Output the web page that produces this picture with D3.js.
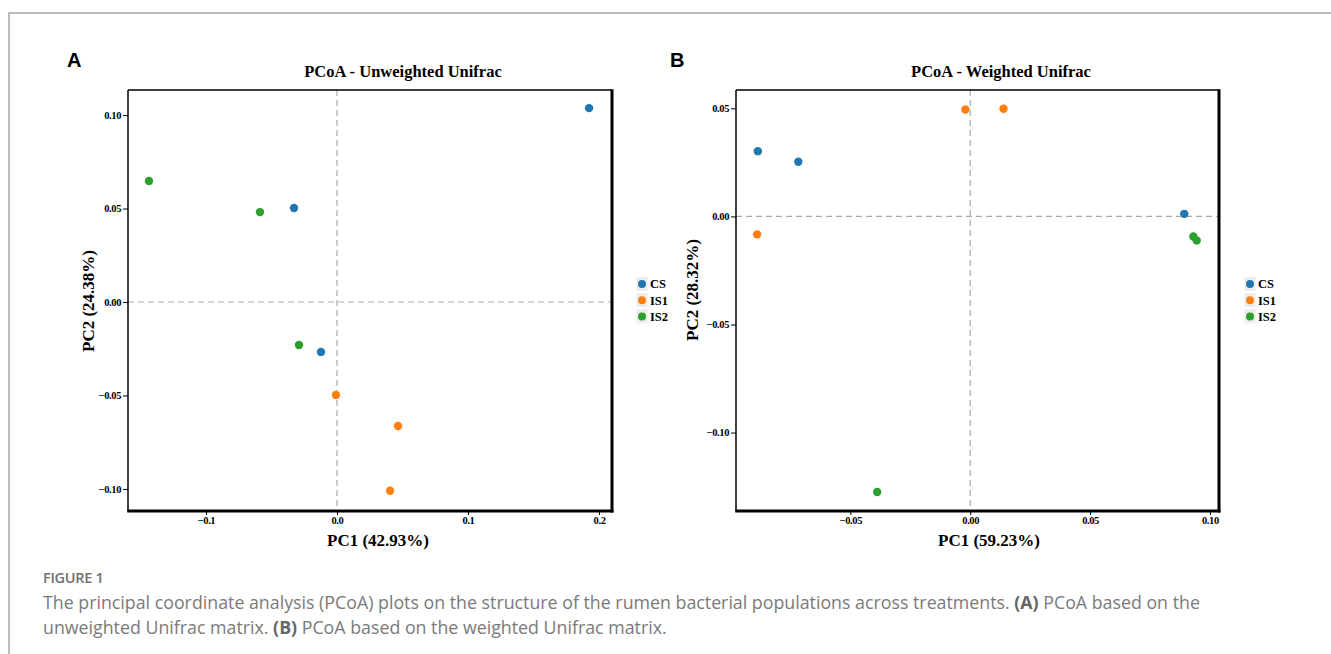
<!DOCTYPE html>
<html><head><meta charset="utf-8">
<script src="https://cdn.jsdelivr.net/npm/d3@7"></script>
<style>
html,body{margin:0;padding:0;background:#fff;}
svg{display:block;}
</style></head>
<body>
<svg id="fig" width="1331" height="654"></svg>
<script>
// ---- data ----
const groups = ["CS", "IS1", "IS2"];
const groupColors = ["#1f77b4", "#ff7f0e", "#2ca02c"];

// Panel A: Unweighted Unifrac (PC1, PC2)
const unweightedGroup = ["CS","CS","CS","IS1","IS1","IS1","IS2","IS2","IS2"];
const unweightedPC1 = [0.1924, -0.0328, -0.0122, -0.0008, 0.0466, 0.0405, -0.1435, -0.0588, -0.0290];
const unweightedPC2 = [0.1037, 0.0503, -0.0267, -0.0497, -0.0663, -0.1010, 0.0647, 0.0481, -0.0230];
const unweightedXTicks = [-0.1, 0.0, 0.1, 0.2];
const unweightedYTicks = [0.10, 0.05, 0.00, -0.05, -0.10];

// Panel B: Weighted Unifrac (PC1, PC2)
const weightedGroup = ["CS","CS","CS","IS1","IS1","IS1","IS2","IS2","IS2"];
const weightedPC1 = [-0.0886, -0.0717, 0.0893, -0.0020, 0.0139, -0.0889, 0.0931, 0.0945, -0.0388];
const weightedPC2 = [0.0302, 0.0253, 0.0012, 0.0495, 0.0498, -0.0083, -0.0093, -0.0111, -0.1275];
const weightedXTicks = [-0.05, 0.00, 0.05, 0.10];
const weightedYTicks = [0.05, 0.00, -0.05, -0.10];

const captionHead = "FIGURE 1";

// ---- drawing ----
const svg = d3.select("#fig");
const serif = "'Liberation Serif','Times New Roman',serif";
const sans = "'Open Sans','Noto Sans',sans-serif";

// frame lines
svg.append("line").attr("x1",8).attr("x2",1331).attr("y1",13).attr("y2",13)
  .attr("stroke","#bdbdbd").attr("stroke-width",2);
svg.append("line").attr("x1",9).attr("x2",9).attr("y1",12).attr("y2",654)
  .attr("stroke","#bdbdbd").attr("stroke-width",2);

function panel(cfg){
  const g = svg.append("g");
  const x = d3.scaleLinear().domain(cfg.xDomain).range([cfg.left, cfg.right]);
  const y = d3.scaleLinear().domain(cfg.yDomain).range([cfg.bottom, cfg.top]);
  const color = d3.scaleOrdinal().domain(groups).range(groupColors);

  // letter
  g.append("text").attr("x",cfg.letterX).attr("y",67).text(cfg.letter)
    .attr("font-family","'Liberation Sans',Arial,sans-serif").attr("font-weight","bold")
    .attr("font-size",20).attr("fill","#000");
  // title
  g.append("text").attr("x",cfg.titleX).attr("y",77).attr("text-anchor","middle")
    .text(cfg.title).attr("font-family",serif).attr("font-weight","bold")
    .attr("font-size",16.5).attr("fill","#000");

  // dashed zero lines
  g.append("line").attr("x1",x(0)).attr("x2",x(0)).attr("y1",cfg.top).attr("y2",cfg.bottom)
    .attr("stroke","#aaa").attr("stroke-width",1.2).attr("stroke-dasharray","6,4");
  g.append("line").attr("x1",cfg.left).attr("x2",cfg.right).attr("y1",y(0)).attr("y2",y(0))
    .attr("stroke","#aaa").attr("stroke-width",1.2).attr("stroke-dasharray","6,4");

  // axes
  const yAxis = d3.axisLeft(y).tickValues(cfg.yTicks).tickFormat(d3.format(".2f")).tickSize(5).tickSizeOuter(0);
  const xAxis = d3.axisBottom(x).tickValues(cfg.xTicks).tickFormat(d3.format(cfg.xFmt)).tickSize(4).tickSizeOuter(0);
  const ya = g.append("g").attr("transform",`translate(${cfg.left},0)`).call(yAxis);
  const xa = g.append("g").attr("transform",`translate(0,${cfg.bottom})`).call(xAxis);
  [ya,xa].forEach(a=>{
    a.select(".domain").remove();
    a.selectAll(".tick line").attr("stroke","#000").attr("stroke-width",1);
    a.selectAll(".tick text").attr("font-family",serif).attr("font-weight","bold")
      .attr("font-size",10.5).attr("fill","#000").attr("letter-spacing","-0.4");
  });
  ya.selectAll(".tick text").attr("x",-7);
  xa.selectAll(".tick text").attr("y",6);

  // box: thin top/left, thick right/bottom
  g.append("line").attr("x1",cfg.left).attr("x2",cfg.right).attr("y1",cfg.top).attr("y2",cfg.top)
    .attr("stroke","#000").attr("stroke-width",1.5);
  g.append("line").attr("x1",cfg.left).attr("x2",cfg.left).attr("y1",cfg.top).attr("y2",cfg.bottom)
    .attr("stroke","#000").attr("stroke-width",1.5);
  g.append("line").attr("x1",cfg.right).attr("x2",cfg.right).attr("y1",cfg.top-0.75).attr("y2",cfg.bottom+1.5)
    .attr("stroke","#000").attr("stroke-width",3);
  g.append("line").attr("x1",cfg.left-0.75).attr("x2",cfg.right+1.5).attr("y1",cfg.bottom).attr("y2",cfg.bottom)
    .attr("stroke","#000").attr("stroke-width",3);

  // points
  const pts = cfg.pc1.map((v,i)=>({x:v, y:cfg.pc2[i], g:cfg.grp[i]}));
  g.append("g").selectAll("circle").data(pts).join("circle")
    .attr("cx",d=>x(d.x)).attr("cy",d=>y(d.y)).attr("r",4.2)
    .attr("fill",d=>color(d.g));

  // axis titles
  g.append("text").attr("x",cfg.xTitleX).attr("y",546).attr("text-anchor","middle")
    .text(cfg.xTitle).attr("font-family",serif).attr("font-weight","bold")
    .attr("font-size",17).attr("fill","#000");
  g.append("text").attr("transform",`translate(${cfg.yTitleX},${cfg.yTitleY}) rotate(-90)`)
    .attr("text-anchor","middle").text(cfg.yTitle).attr("font-family",serif)
    .attr("font-weight","bold").attr("font-size",17).attr("fill","#000");

  // legend
  const lg = g.append("g");
  groups.forEach((k,i)=>{
    const cy = 284 + i*16.2;
    lg.append("rect").attr("x",cfg.legendX-5.5).attr("y",cy-7).attr("width",11).attr("height",14)
      .attr("fill","#ececec");
    lg.append("circle").attr("cx",cfg.legendX).attr("cy",cy).attr("r",4).attr("fill",color(k));
    lg.append("text").attr("x",cfg.legendX+8).attr("y",cy+4.3).text(k)
      .attr("font-family",serif).attr("font-weight","bold").attr("font-size",12.5).attr("fill","#000");
  });
}

panel({
  letter:"A", letterX:67, title:"PCoA - Unweighted Unifrac", titleX:403,
  left:128, right:612, top:90, bottom:511,
  xDomain:[-0.1595, 0.2099], yDomain:[-0.1118, 0.1134],
  xTicks:unweightedXTicks, yTicks:unweightedYTicks, xFmt:".1f",
  pc1:unweightedPC1, pc2:unweightedPC2, grp:unweightedGroup,
  xTitle:"PC1 (42.93%)", xTitleX:378,
  yTitle:"PC2 (24.38%)", yTitleX:94, yTitleY:301,
  legendX:642
});
panel({
  letter:"B", letterX:670, title:"PCoA - Weighted Unifrac", titleX:1001,
  left:736, right:1219, top:90, bottom:511,
  xDomain:[-0.0977, 0.1038], yDomain:[-0.1363, 0.0585],
  xTicks:weightedXTicks, yTicks:weightedYTicks, xFmt:".2f",
  pc1:weightedPC1, pc2:weightedPC2, grp:weightedGroup,
  xTitle:"PC1 (59.23%)", xTitleX:989,
  yTitle:"PC2 (28.32%)", yTitleX:698, yTitleY:290,
  legendX:1250
});

// caption
svg.append("text").attr("x",43).attr("y",583).text(captionHead)
  .attr("font-family",sans).attr("font-weight","600").attr("font-size",14.5).attr("fill","#707070")
  .attr("letter-spacing","-0.3");
const cap = svg.append("text").attr("font-family",sans).attr("font-size",17.8).attr("fill","#7a7a7a");
const l1 = cap.append("tspan").attr("x",43).attr("y",609);
l1.append("tspan").text("The principal coordinate analysis (PCoA) plots on the structure of the rumen bacterial populations across treatments. ");
l1.append("tspan").attr("font-weight","bold").attr("fill","#666").text("(A)");
l1.append("tspan").text(" PCoA based on the");
const l2 = cap.append("tspan").attr("x",43).attr("y",634);
l2.append("tspan").text("unweighted Unifrac matrix. ");
l2.append("tspan").attr("font-weight","bold").attr("fill","#666").text("(B)");
l2.append("tspan").text(" PCoA based on the weighted Unifrac matrix.");
</script>
</body></html>
